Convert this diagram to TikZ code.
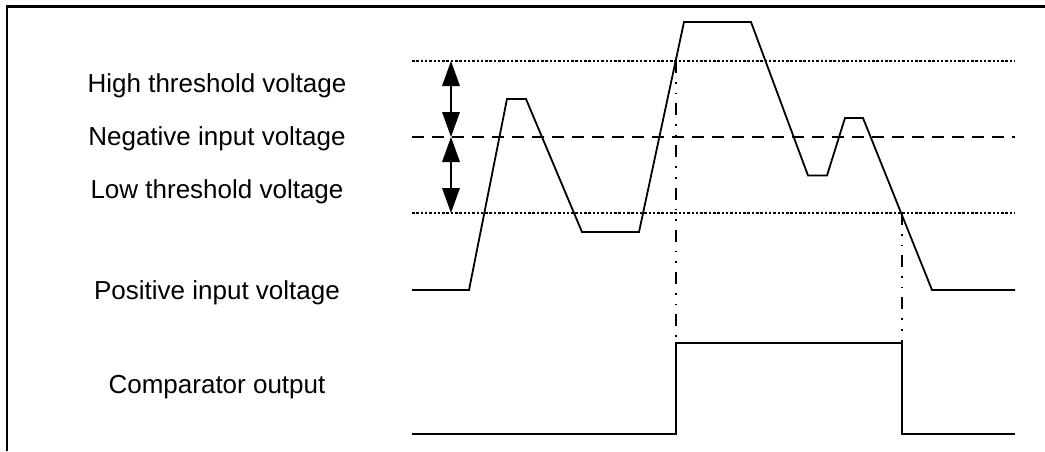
\documentclass[tikz,border=0pt]{standalone}
\usepackage{fontspec}
\setmainfont{Liberation Sans}
\usetikzlibrary{arrows.meta}
\begin{document}
\begin{tikzpicture}[x=1pt,y=-1pt,
 lbl/.style={font=\fontsize{26}{30}\selectfont, anchor=base, inner sep=0pt},
 wave/.style={line width=1.8pt, line join=miter},
 dotline/.style={line width=1.8pt, dash pattern=on 2.5pt off 1.8pt},
 dashline/.style={line width=1.8pt, dash pattern=on 12pt off 8pt},
 dashdot/.style={line width=1.6pt, dash pattern=on 12pt off 9pt on 1.6pt off 9pt on 1.6pt off 9pt},
 dimarrow/.style={line width=1.8pt, {Triangle[width=17.5pt,length=25pt]}-{Triangle[width=17.5pt,length=25pt]}},
 frame/.style={line width=2.2pt}]
\useasboundingbox (0,0) rectangle (1045,451);
% frame
\draw[frame] (7,451) -- (7,6.5) -- (1045,6.5);
% labels
\node[lbl] (high) at (217,92.7) {High threshold voltage};
\node[lbl] (neg)  at (217,145.5) {Negative input voltage};
\node[lbl] (low)  at (217,198) {Low threshold voltage};
\node[lbl] (pos)  at (217,299) {Positive input voltage};
\node[lbl] (cmp)  at (217,393) {Comparator output};
% reference lines
\coordinate (hL) at (412,61);  \coordinate (hR) at (1015,61);
\coordinate (nL) at (412,137); \coordinate (nR) at (1015,137);
\coordinate (lL) at (412,213); \coordinate (lR) at (1015,213);
\draw[dotline] (hL) -- (hR);
\draw[dashline] (nL) -- (nR);
\draw[dotline] (lL) -- (lR);
% dimension arrows
\coordinate (aH) at (451,61);
\coordinate (aN) at (451,137);
\coordinate (aL) at (451,213);
\draw[dimarrow] (aH) -- (aN);
\draw[dimarrow] (aN) -- (aL);
% positive input waveform
\draw[wave] (412,290) -- (469,290) -- (507,99) -- (526,99) -- (582,232) -- (639,232)
  -- (684,22) -- (751,22) -- (808,175.5) -- (827,175.5) -- (845,118) -- (863,118)
  -- (932,290) -- (1015,290);
% comparator output
\coordinate (c1) at (676,343);
\coordinate (c2) at (902,343);
\draw[wave] (412,434) -- (676,434) -- (c1) -- (c2) -- (902,434) -- (1015,434);
% switching markers
\coordinate (x1) at (676,61);
\coordinate (x2) at (902,213);
\draw[dashdot] (x1) -- (c1);
\draw[dashdot] (x2) -- (c2);
\end{tikzpicture}
\end{document}
